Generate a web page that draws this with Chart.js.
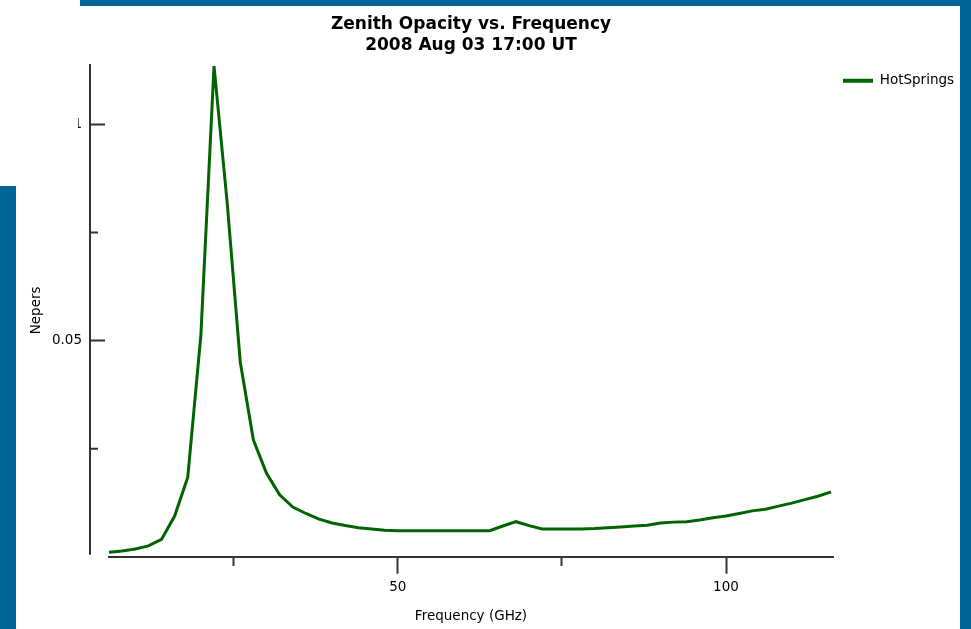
<!DOCTYPE html>
<html>
<head>
<meta charset="utf-8">
<title>Zenith Opacity vs. Frequency</title>
<script src="https://cdn.jsdelivr.net/npm/chart.js@4.4.1/dist/chart.umd.min.js"></script>
<style>
  html, body { margin: 0; padding: 0; background: #fff; overflow: hidden; }
  #wrap { position: relative; width: 971px; height: 629px; }
  #chart { position: absolute; left: 0; top: 0; }
  .band { position: absolute; background: #006699; }
  #corner { position: absolute; left: 0; top: 0; width: 78px; height: 186px; background: #fff; }
</style>
</head>
<body>
<div id="wrap">
  <canvas id="chart" width="971" height="629"></canvas>
  <div id="corner"></div>
  <div class="band" style="left:80px;top:0;width:891px;height:6px"></div>
  <div class="band" style="left:0;top:186px;width:16px;height:443px"></div>
  <div class="band" style="left:960px;top:0;width:11px;height:629px"></div>
</div>
<script>
// GHz
const frequencies = [
  6, 8, 10, 12, 14, 16, 18, 20, 22, 24, 26, 28, 30, 32, 34, 36, 38, 40, 42, 44,
  46, 48, 50, 52, 54, 56, 58, 60, 62, 64, 66, 68, 70, 72, 74, 76, 78, 80, 82, 84,
  86, 88, 90, 92, 94, 96, 98, 100, 102, 104, 106, 108, 110, 112, 114, 116
];
// nepers
const hotSprings = [
  0.0010, 0.0013, 0.0018, 0.0025, 0.0040, 0.0094, 0.0184, 0.0513, 0.1135, 0.0820,
  0.0450, 0.0270, 0.0193, 0.0143, 0.0115, 0.0100, 0.0087, 0.0078, 0.0072, 0.0067,
  0.0064, 0.0061, 0.0060, 0.0060, 0.0060, 0.0060, 0.0060, 0.0060, 0.0060, 0.0060,
  0.0071, 0.0081, 0.0072, 0.0064, 0.0064, 0.0064, 0.0064, 0.0065, 0.0067, 0.0069,
  0.0071, 0.0073, 0.0078, 0.0080, 0.0081, 0.0085, 0.0090, 0.0094, 0.0100, 0.0106,
  0.0110, 0.0117, 0.0124, 0.0132, 0.0140, 0.0150
];
const xLabelValues = [50, 100];
const yLabelValues = [0.05, 0.1];

const AXIS_COLOR = '#333';
const LINE_COLOR = '#006400';
const Y_AXIS_GAP = 19;   // y axis sits a little left of where the data starts
const PLOT_RIGHT = 833;

Chart.defaults.font.family = 'DejaVu Sans';
Chart.defaults.font.size = 13.5;
Chart.defaults.color = '#000';

// y axis line with inward ticks, drawn off the y scale's own ticks
const yAxisLine = {
  id: 'yAxisLine',
  afterDraw(chart) {
    const { ctx, chartArea, scales: { y } } = chart;
    const ax = chartArea.left - Y_AXIS_GAP;
    ctx.save();
    ctx.strokeStyle = AXIS_COLOR;
    ctx.lineWidth = 2;
    ctx.beginPath();
    ctx.moveTo(ax, chartArea.top);
    ctx.lineTo(ax, chartArea.bottom - 2);
    y.ticks.forEach(t => {
      if (t.value <= 0) return;
      const py = y.getPixelForValue(t.value);
      const len = yLabelValues.includes(t.value) ? 15 : 8;
      ctx.moveTo(ax, py);
      ctx.lineTo(ax + len, py);
    });
    ctx.stroke();
    ctx.restore();
  }
};

const ctx = document.getElementById('chart').getContext('2d');
const chart = new Chart(ctx, {
  type: 'line',
  data: {
    datasets: [{
      label: 'HotSprings',
      data: frequencies.map((f, i) => ({ x: f, y: hotSprings[i] })),
      borderColor: LINE_COLOR,
      backgroundColor: LINE_COLOR,
      borderWidth: 3,
      pointRadius: 0,
      tension: 0,
      fill: false
    }]
  },
  options: {
    responsive: false,
    animation: false,
    devicePixelRatio: 1,
    layout: { padding: { left: 0, right: 0, top: 0, bottom: 0 } },
    plugins: {
      title: {
        display: true,
        text: ['Zenith Opacity vs. Frequency', '2008 Aug 03 17:00 UT'],
        font: { family: 'DejaVu Sans', size: 17, weight: 'bold' },
        color: '#000',
        fullSize: false,
        padding: { top: 14.8, bottom: 8.4 }
      },
      legend: {
        position: 'right',
        align: 'start',
        fullSize: false,
        labels: {
          boxWidth: 30,
          boxHeight: 4,
          padding: 10,
          generateLabels(chart) {
            return Chart.defaults.plugins.legend.labels.generateLabels(chart)
              .map(item => ({ ...item, lineWidth: 0 }));
          }
        }
      },
      tooltip: { enabled: false }
    },
    scales: {
      x: {
        type: 'linear',
        position: 'bottom',
        min: 6,
        max: 116.3,
        afterFit(scale) { scale.height = 72.3; },
        border: { display: true, color: AXIS_COLOR, width: 2 },
        grid: {
          display: true,
          drawOnChartArea: false,
          drawTicks: true,
          tickLength: 17,
          tickColor: AXIS_COLOR,
          tickWidth: 2,
          tickBorderDash: c => (c.tick && !xLabelValues.includes(c.tick.value)) ? [8, 1000] : []
        },
        ticks: {
          stepSize: 25,
          includeBounds: false,
          padding: 5.5,
          maxRotation: 0,
          autoSkip: false,
          callback: v => xLabelValues.includes(v) ? String(v) : ''
        },
        title: {
          display: true,
          text: 'Frequency (GHz)',
          padding: { top: 0, bottom: 4 }
        }
      },
      y: {
        type: 'linear',
        position: 'left',
        min: 0,
        max: 0.114,
        afterFit(scale) { scale.width = 109; },
        border: { display: false },
        grid: { display: false, drawTicks: false },
        ticks: {
          stepSize: 0.025,
          includeBounds: false,
          padding: 27,
          autoSkip: false,
          callback: v => yLabelValues.includes(v) ? String(v) : ''
        },
        title: {
          display: true,
          text: 'Nepers',
          padding: { top: 28, bottom: 0 }
        }
      }
    }
  },
  plugins: [yAxisLine]
});

// legend width depends on the text metrics; pad the right side so the plot ends where the reference does
chart.options.layout.padding.right = Math.max(0, chart.chartArea.right - PLOT_RIGHT);
chart.update('none');
</script>
</body>
</html>
